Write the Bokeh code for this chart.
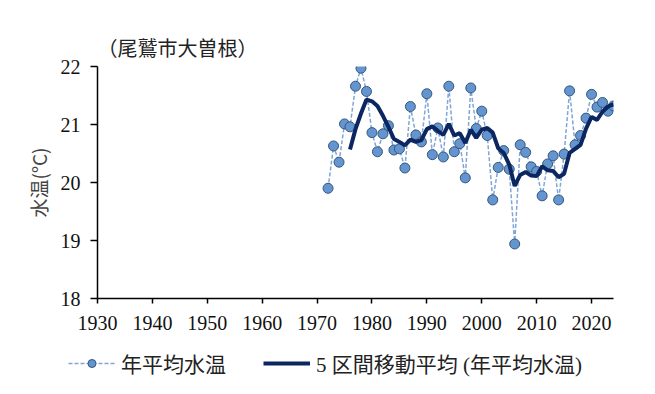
from bokeh.plotting import figure
from bokeh.models import ColumnDataSource, Legend, LegendItem, FixedTicker
from bokeh.layouts import column, row
from bokeh.embed import file_html
from bokeh.resources import INLINE

years = list(range(1972, 2025))
water_temp = [19.90, 20.63, 20.35, 21.01, 20.96, 21.66, 21.97, 21.57, 20.86, 20.53,
              20.84, 20.98, 20.56, 20.58, 20.25, 21.31, 20.82, 20.70, 21.53, 20.48,
              20.94, 20.44, 21.66, 20.53, 20.67, 20.08, 21.63, 20.93, 21.23, 20.81,
              19.70, 20.26, 20.55, 20.23, 18.94, 20.65, 20.52, 20.27, 20.19, 19.77,
              20.32, 20.46, 19.70, 20.49, 21.58, 20.65, 20.81, 21.11, 21.52, 21.30,
              21.38, 21.23, 21.32]
ma_years = list(range(1976, 2025))
ma_values = [20.57, 20.92, 21.19, 21.43, 21.40, 21.32, 21.15, 20.96, 20.75, 20.70,
             20.64, 20.74, 20.70, 20.73, 20.92, 20.97, 20.89, 20.82, 21.01, 20.81,
             20.85, 20.68, 20.91, 20.77, 20.91, 20.94, 20.86, 20.59, 20.51, 20.31,
             19.94, 20.13, 20.18, 20.12, 20.11, 20.28, 20.21, 20.20, 20.09, 20.15,
             20.51, 20.58, 20.65, 20.93, 21.13, 21.08, 21.22, 21.31, 21.35]
x_ticks = [1930, 1940, 1950, 1960, 1970, 1980, 1990, 2000, 2010, 2020]
y_ticks = [18, 19, 20, 21, 22]
title_text = "（尾鷲市大曽根）"
y_label = "水温(°C)"
label_annual = "年平均水温"
label_ma = "5 区間移動平均 (年平均水温)"

SERIF = "Liberation Serif"
MIXED = "Liberation Serif, Noto Sans CJK JP"
CJK = "Noto Sans CJK JP"

STYLE_DOTLINE = dict(line_color="#7FA6D6", line_width=1.5, line_dash="4 2")
STYLE_DOT = dict(size=10, fill_color="#6495CF", line_color="#34577F", line_width=1)
STYLE_MA = dict(line_color="#0B2660", line_width=4)

p = figure(width=639, height=345, output_backend="svg", toolbar_location=None,
           x_range=(1930, 2024), y_range=(18, 22),
           min_border_left=97, min_border_right=26, min_border_top=66, min_border_bottom=47,
           title=title_text)
p.outline_line_color = None
p.xgrid.visible = False
p.ygrid.visible = False

p.title.text_font = CJK
p.title.text_font_size = "20px"
p.title.text_font_style = "normal"
p.title.align = "left"
p.title.standoff = 10
p.title.text_color = "#222222"

for ax in (p.xaxis[0], p.yaxis[0]):
    ax.axis_line_color = "black"
    ax.axis_line_width = 1.5
    ax.major_tick_line_color = "black"
    ax.major_tick_line_width = 1.5
    ax.major_tick_in = 0
    ax.minor_tick_line_color = None
    ax.major_label_text_font = SERIF
    ax.major_label_text_font_size = "20px"
    ax.major_label_text_color = "#111111"

p.xaxis[0].ticker = FixedTicker(ticks=x_ticks)
p.xaxis[0].major_tick_out = 5
p.xaxis[0].major_label_standoff = 12
p.yaxis[0].ticker = FixedTicker(ticks=y_ticks)
p.yaxis[0].major_tick_out = 7
p.yaxis[0].major_label_standoff = 10
p.yaxis[0].axis_label = y_label
p.yaxis[0].axis_label_text_font = CJK
p.yaxis[0].axis_label_text_font_size = "19px"
p.yaxis[0].axis_label_text_font_style = "normal"
p.yaxis[0].axis_label_standoff = 6

src = ColumnDataSource(dict(x=years, y=water_temp))
src_ma = ColumnDataSource(dict(x=ma_years, y=ma_values))

p.line("x", "y", source=src, **STYLE_DOTLINE)
p.scatter("x", "y", source=src, **STYLE_DOT)
p.line("x", "y", source=src_ma, **STYLE_MA)

# legend strip below the chart (swatches only; the single NaN row draws nothing)
lg = figure(width=639, height=33, output_backend="svg", toolbar_location=None,
            x_axis_type=None, y_axis_type=None, x_range=(0, 1), y_range=(0, 1),
            min_border=0, min_border_left=0, min_border_right=0,
            min_border_top=0, min_border_bottom=0)
lg.outline_line_color = None
lg.xgrid.visible = False
lg.ygrid.visible = False
swatch = ColumnDataSource(dict(x=[float("nan")], y=[float("nan")]))
k1 = lg.line("x", "y", source=swatch, **STYLE_DOTLINE)
k2 = lg.scatter("x", "y", source=swatch, **STYLE_DOT)
k3 = lg.line("x", "y", source=swatch, **STYLE_MA)
legend = Legend(items=[LegendItem(label=label_annual, renderers=[k1, k2]),
                       LegendItem(label=label_ma, renderers=[k3])],
                location=(68, 0), orientation="horizontal",
                border_line_color=None, background_fill_alpha=0,
                padding=0, margin=0, spacing=37, glyph_width=47, glyph_height=20,
                label_standoff=6, label_text_font=MIXED, label_text_font_size="21px",
                label_text_color="#222222")
lg.add_layout(legend, "center")

layout = column(p, row(lg), spacing=0)
open("out.html", "w").write(file_html(layout, INLINE))
